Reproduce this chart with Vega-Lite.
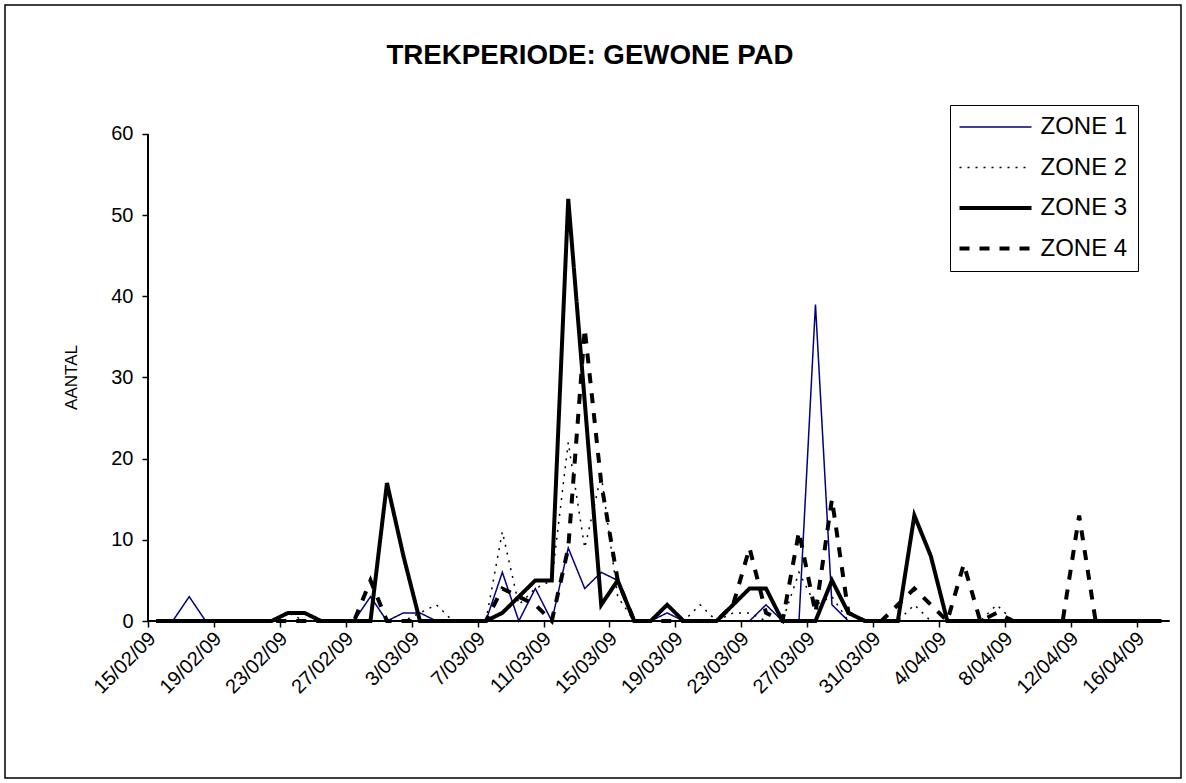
{
  "$schema": "https://vega.github.io/schema/vega-lite/v6.json",
  "width": 1176,
  "height": 773,
  "padding": 5,
  "autosize": {"type": "none"},
  "background": "white",
  "config": {
    "view": {"stroke": "black", "strokeWidth": 1.5},
    "font": "Liberation Sans",
    "axis": {"grid": false, "domain": false, "tickColor": "black", "labelColor": "black", "titleColor": "black", "tickWidth": 1.5, "labelFont": "Liberation Sans", "titleFont": "Liberation Sans"}
  },
  "title": {"text": "TREKPERIODE: GEWONE PAD", "fontSize": 27.7, "fontWeight": "bold", "font": "Liberation Sans", "anchor": "middle", "frame": "group", "offset": -87, "baseline": "alphabetic", "color": "black", "dx": -3},
  "layer": [
    {
      "data": {"values": [
        {"date": "2009-02-15", "ZONE 1": 0, "ZONE 2": 0, "ZONE 3": 0, "ZONE 4": 0},
        {"date": "2009-02-16", "ZONE 1": 0, "ZONE 2": 0, "ZONE 3": 0, "ZONE 4": 0},
        {"date": "2009-02-17", "ZONE 1": 3, "ZONE 2": 0, "ZONE 3": 0, "ZONE 4": 0},
        {"date": "2009-02-18", "ZONE 1": 0, "ZONE 2": 0, "ZONE 3": 0, "ZONE 4": 0},
        {"date": "2009-02-19", "ZONE 1": 0, "ZONE 2": 0, "ZONE 3": 0, "ZONE 4": 0},
        {"date": "2009-02-20", "ZONE 1": 0, "ZONE 2": 0, "ZONE 3": 0, "ZONE 4": 0},
        {"date": "2009-02-21", "ZONE 1": 0, "ZONE 2": 0, "ZONE 3": 0, "ZONE 4": 0},
        {"date": "2009-02-22", "ZONE 1": 0, "ZONE 2": 0, "ZONE 3": 0, "ZONE 4": 0},
        {"date": "2009-02-23", "ZONE 1": 0, "ZONE 2": 1, "ZONE 3": 1, "ZONE 4": 0},
        {"date": "2009-02-24", "ZONE 1": 0, "ZONE 2": 0, "ZONE 3": 1, "ZONE 4": 0},
        {"date": "2009-02-25", "ZONE 1": 0, "ZONE 2": 0, "ZONE 3": 0, "ZONE 4": 0},
        {"date": "2009-02-26", "ZONE 1": 0, "ZONE 2": 0, "ZONE 3": 0, "ZONE 4": 0},
        {"date": "2009-02-27", "ZONE 1": 0, "ZONE 2": 0, "ZONE 3": 0, "ZONE 4": 0},
        {"date": "2009-02-28", "ZONE 1": 3, "ZONE 2": 0, "ZONE 3": 0, "ZONE 4": 5},
        {"date": "2009-03-01", "ZONE 1": 0, "ZONE 2": 0, "ZONE 3": 17, "ZONE 4": 0},
        {"date": "2009-03-02", "ZONE 1": 1, "ZONE 2": 0, "ZONE 3": 8, "ZONE 4": 0},
        {"date": "2009-03-03", "ZONE 1": 1, "ZONE 2": 1, "ZONE 3": 0, "ZONE 4": 0},
        {"date": "2009-03-04", "ZONE 1": 0, "ZONE 2": 2, "ZONE 3": 0, "ZONE 4": 0},
        {"date": "2009-03-05", "ZONE 1": 0, "ZONE 2": 0, "ZONE 3": 0, "ZONE 4": 0},
        {"date": "2009-03-06", "ZONE 1": 0, "ZONE 2": 0, "ZONE 3": 0, "ZONE 4": 0},
        {"date": "2009-03-07", "ZONE 1": 0, "ZONE 2": 0, "ZONE 3": 0, "ZONE 4": 0},
        {"date": "2009-03-08", "ZONE 1": 6, "ZONE 2": 11, "ZONE 3": 1, "ZONE 4": 4},
        {"date": "2009-03-09", "ZONE 1": 0, "ZONE 2": 2, "ZONE 3": 3, "ZONE 4": 3},
        {"date": "2009-03-10", "ZONE 1": 4, "ZONE 2": 4, "ZONE 3": 5, "ZONE 4": 2},
        {"date": "2009-03-11", "ZONE 1": 0, "ZONE 2": 5, "ZONE 3": 5, "ZONE 4": 0},
        {"date": "2009-03-12", "ZONE 1": 9, "ZONE 2": 22, "ZONE 3": 52, "ZONE 4": 9},
        {"date": "2009-03-13", "ZONE 1": 4, "ZONE 2": 9, "ZONE 3": 27, "ZONE 4": 36},
        {"date": "2009-03-14", "ZONE 1": 6, "ZONE 2": 18, "ZONE 3": 2, "ZONE 4": 17},
        {"date": "2009-03-15", "ZONE 1": 5, "ZONE 2": 3, "ZONE 3": 5, "ZONE 4": 5},
        {"date": "2009-03-16", "ZONE 1": 0, "ZONE 2": 0, "ZONE 3": 0, "ZONE 4": 0},
        {"date": "2009-03-17", "ZONE 1": 0, "ZONE 2": 0, "ZONE 3": 0, "ZONE 4": 0},
        {"date": "2009-03-18", "ZONE 1": 1, "ZONE 2": 0, "ZONE 3": 2, "ZONE 4": 0},
        {"date": "2009-03-19", "ZONE 1": 0, "ZONE 2": 0, "ZONE 3": 0, "ZONE 4": 0},
        {"date": "2009-03-20", "ZONE 1": 0, "ZONE 2": 2, "ZONE 3": 0, "ZONE 4": 0},
        {"date": "2009-03-21", "ZONE 1": 0, "ZONE 2": 0, "ZONE 3": 0, "ZONE 4": 0},
        {"date": "2009-03-22", "ZONE 1": 0, "ZONE 2": 1, "ZONE 3": 2, "ZONE 4": 2},
        {"date": "2009-03-23", "ZONE 1": 0, "ZONE 2": 1, "ZONE 3": 4, "ZONE 4": 9},
        {"date": "2009-03-24", "ZONE 1": 2, "ZONE 2": 0, "ZONE 3": 4, "ZONE 4": 1},
        {"date": "2009-03-25", "ZONE 1": 0, "ZONE 2": 0, "ZONE 3": 0, "ZONE 4": 0},
        {"date": "2009-03-26", "ZONE 1": 0, "ZONE 2": 6, "ZONE 3": 0, "ZONE 4": 11},
        {"date": "2009-03-27", "ZONE 1": 39, "ZONE 2": 2, "ZONE 3": 0, "ZONE 4": 1},
        {"date": "2009-03-28", "ZONE 1": 2, "ZONE 2": 3, "ZONE 3": 5, "ZONE 4": 15},
        {"date": "2009-03-29", "ZONE 1": 0, "ZONE 2": 0, "ZONE 3": 1, "ZONE 4": 1},
        {"date": "2009-03-30", "ZONE 1": 0, "ZONE 2": 0, "ZONE 3": 0, "ZONE 4": 0},
        {"date": "2009-03-31", "ZONE 1": 0, "ZONE 2": 0, "ZONE 3": 0, "ZONE 4": 0},
        {"date": "2009-04-01", "ZONE 1": 0, "ZONE 2": 0, "ZONE 3": 0, "ZONE 4": 2},
        {"date": "2009-04-02", "ZONE 1": 0, "ZONE 2": 2, "ZONE 3": 13, "ZONE 4": 4},
        {"date": "2009-04-03", "ZONE 1": 0, "ZONE 2": 0, "ZONE 3": 8, "ZONE 4": 2},
        {"date": "2009-04-04", "ZONE 1": 0, "ZONE 2": 0, "ZONE 3": 0, "ZONE 4": 0},
        {"date": "2009-04-05", "ZONE 1": 0, "ZONE 2": 0, "ZONE 3": 0, "ZONE 4": 7},
        {"date": "2009-04-06", "ZONE 1": 0, "ZONE 2": 0, "ZONE 3": 0, "ZONE 4": 0},
        {"date": "2009-04-07", "ZONE 1": 0, "ZONE 2": 2, "ZONE 3": 0, "ZONE 4": 1},
        {"date": "2009-04-08", "ZONE 1": 0, "ZONE 2": 0, "ZONE 3": 0, "ZONE 4": 0},
        {"date": "2009-04-09", "ZONE 1": 0, "ZONE 2": 0, "ZONE 3": 0, "ZONE 4": 0},
        {"date": "2009-04-10", "ZONE 1": 0, "ZONE 2": 0, "ZONE 3": 0, "ZONE 4": 0},
        {"date": "2009-04-11", "ZONE 1": 0, "ZONE 2": 0, "ZONE 3": 0, "ZONE 4": 0},
        {"date": "2009-04-12", "ZONE 1": 0, "ZONE 2": 0, "ZONE 3": 0, "ZONE 4": 13},
        {"date": "2009-04-13", "ZONE 1": 0, "ZONE 2": 0, "ZONE 3": 0, "ZONE 4": 0},
        {"date": "2009-04-14", "ZONE 1": 0, "ZONE 2": 0, "ZONE 3": 0, "ZONE 4": 0},
        {"date": "2009-04-15", "ZONE 1": 0, "ZONE 2": 0, "ZONE 3": 0, "ZONE 4": 0},
        {"date": "2009-04-16", "ZONE 1": 0, "ZONE 2": 0, "ZONE 3": 0, "ZONE 4": 0},
        {"date": "2009-04-17", "ZONE 1": 0, "ZONE 2": 0, "ZONE 3": 0, "ZONE 4": 0}
      ]},
      "transform": [{"fold": ["ZONE 1", "ZONE 2", "ZONE 3", "ZONE 4"], "as": ["zone", "n"]}],
      "mark": {"type": "line", "strokeCap": "butt", "strokeJoin": "miter"},
      "encoding": {
        "x": {
          "field": "date", "type": "temporal",
          "scale": {"type": "utc", "nice": false, "domain": [{"year": 2009, "month": 2, "date": 5, "hours": 19, "minutes": 45, "utc": true}, {"year": 2009, "month": 4, "date": 18, "hours": 4, "minutes": 19, "utc": true}]},
          "axis": {
            "title": null,
            "offset": -157,
            "values": [
              {"year": 2009, "month": 2, "date": 15, "utc": true},
              {"year": 2009, "month": 2, "date": 19, "utc": true},
              {"year": 2009, "month": 2, "date": 23, "utc": true},
              {"year": 2009, "month": 2, "date": 27, "utc": true},
              {"year": 2009, "month": 3, "date": 3, "utc": true},
              {"year": 2009, "month": 3, "date": 7, "utc": true},
              {"year": 2009, "month": 3, "date": 11, "utc": true},
              {"year": 2009, "month": 3, "date": 15, "utc": true},
              {"year": 2009, "month": 3, "date": 19, "utc": true},
              {"year": 2009, "month": 3, "date": 23, "utc": true},
              {"year": 2009, "month": 3, "date": 27, "utc": true},
              {"year": 2009, "month": 3, "date": 31, "utc": true},
              {"year": 2009, "month": 4, "date": 4, "utc": true},
              {"year": 2009, "month": 4, "date": 8, "utc": true},
              {"year": 2009, "month": 4, "date": 12, "utc": true},
              {"year": 2009, "month": 4, "date": 16, "utc": true}
            ],
            "format": "%-d/%m/%y",
            "labelAngle": -45,
            "labelAlign": "right",
            "labelBaseline": "top",
            "labelFontSize": 20,
            "tickOffset": -8.24,
            "labelOffset": -3,
            "labelPadding": 1,
            "tickSize": 6,
            "labelOverlap": false,
            "labelFlush": false,
            "labelBound": false
          }
        },
        "y": {
          "field": "n", "type": "quantitative",
          "scale": {"domain": [-19.34, 75.89], "nice": false, "zero": false},
          "axis": {
            "title": "AANTAL",
            "offset": -143,
            "values": [0, 10, 20, 30, 40, 50, 60],
            "tickSize": 6,
            "labelFontSize": 20,
            "labelPadding": 9,
            "titleFontSize": 17,
            "titleFontWeight": "normal",
            "titleX": -77,
            "titleY": 372,
            "titleAngle": -90,
            "titleAlign": "center",
            "titleBaseline": "middle"
          }
        },
        "color": {
          "field": "zone", "type": "nominal",
          "scale": {"domain": ["ZONE 1", "ZONE 2", "ZONE 3", "ZONE 4"], "range": ["#000080", "#000000", "#000000", "#000000"]},
          "legend": {"title": null, "orient": "none", "legendX": 945, "legendY": 100, "strokeColor": "black", "fillColor": "white", "padding": 10, "labelFontSize": 24, "labelFont": "Liberation Sans", "labelColor": "black", "symbolType": "stroke", "symbolSize": 5184, "symbolOffset": 23.5, "labelOffset": 33, "rowPadding": 16.5, "encode": {"symbols": {"update": {"strokeWidth": {"signal": "datum.value === 'ZONE 3' || datum.value === 'ZONE 4' ? 4 : 1.5"}}}}}
        },
        "strokeDash": {
          "field": "zone", "type": "nominal",
          "scale": {"domain": ["ZONE 1", "ZONE 2", "ZONE 3", "ZONE 4"], "range": [[1, 0], [2, 6], [1, 0], [10, 10]]},
          "legend": {"title": null, "orient": "none", "legendX": 945, "legendY": 100, "strokeColor": "black", "fillColor": "white", "padding": 10, "labelFontSize": 24, "labelFont": "Liberation Sans", "labelColor": "black", "symbolType": "stroke", "symbolSize": 5184, "symbolOffset": 23.5, "labelOffset": 33, "rowPadding": 16.5, "encode": {"symbols": {"update": {"strokeWidth": {"signal": "datum.value === 'ZONE 3' || datum.value === 'ZONE 4' ? 4 : 1.5"}}}}}
        },
        "strokeWidth": {"condition": {"test": "datum.zone === 'ZONE 3' || datum.zone === 'ZONE 4'", "value": 4}, "value": 1.5}
      }
    },
    {
      "data": {"values": [{}]},
      "mark": {"type": "rule", "color": "black", "strokeWidth": 2},
      "encoding": {
        "x": {"datum": {"year": 2009, "month": 2, "date": 14, "hours": 12, "utc": true}, "type": "temporal", "scale": {"type": "utc", "nice": false, "domain": [{"year": 2009, "month": 2, "date": 5, "hours": 19, "minutes": 45, "utc": true}, {"year": 2009, "month": 4, "date": 18, "hours": 4, "minutes": 19, "utc": true}]}},
        "x2": {"datum": {"year": 2009, "month": 4, "date": 17, "hours": 12, "utc": true}},
        "y": {"datum": 0, "type": "quantitative", "scale": {"domain": [-19.34, 75.89], "nice": false, "zero": false}}
      }
    },
    {
      "data": {"values": [{}]},
      "mark": {"type": "rule", "color": "black", "strokeWidth": 2},
      "encoding": {
        "x": {"datum": {"year": 2009, "month": 2, "date": 14, "hours": 12, "utc": true}, "type": "temporal", "scale": {"type": "utc", "nice": false, "domain": [{"year": 2009, "month": 2, "date": 5, "hours": 19, "minutes": 45, "utc": true}, {"year": 2009, "month": 4, "date": 18, "hours": 4, "minutes": 19, "utc": true}]}},
        "y": {"datum": 0, "type": "quantitative", "scale": {"domain": [-19.34, 75.89], "nice": false, "zero": false}},
        "y2": {"datum": 60}
      }
    }
  ]
}
